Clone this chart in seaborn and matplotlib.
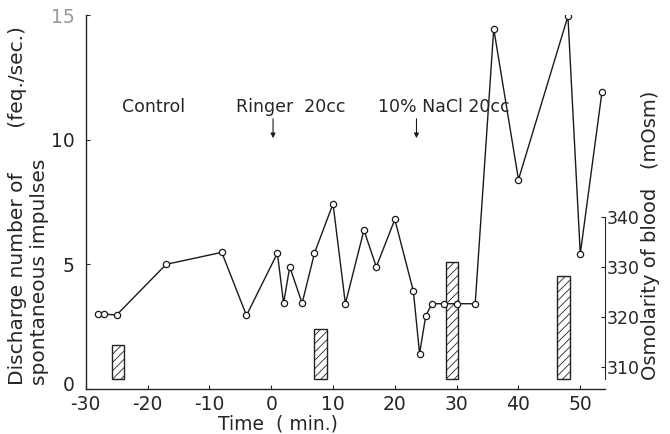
import matplotlib
matplotlib.use("Agg")
import matplotlib.pyplot as plt
import matplotlib.transforms as mtransforms
import seaborn as sns

# discharge rate (feq./sec.) over time (min.)
time_min = [-28, -27, -25, -17, -8, -4, 1, 2, 3, 5, 7, 10, 12, 15, 17, 20, 23, 24,
            25, 26, 28, 30, 33, 36, 40, 48, 50, 53.5]
discharge = [3.0, 3.0, 2.97, 5.0, 5.48, 2.95, 5.45, 3.44, 4.9, 3.44, 5.45, 7.43, 3.42,
             6.37, 4.9, 6.8, 3.92, 1.42, 2.93, 3.42, 3.42, 3.42, 3.42, 14.45, 8.4,
             14.95, 5.42, 11.9]

# blood osmolarity samples (mOsm)
osm_time = [-24.8, 8.0, 29.2, 47.3]
osm_value = [314.4, 317.6, 331.0, 328.2]

sns.set_style("ticks")
plt.rcParams['font.family'] = ['DejaVu Sans']
plt.rcParams['hatch.linewidth'] = 0.6
plt.rcParams['axes.unicode_minus'] = False

fig = plt.figure(figsize=(6.7, 4.34), dpi=100)
ax = fig.add_axes([0.128, 0.1037, 0.775, 0.8617])
ax2 = ax.twinx()

# osmolarity bars (right axis)
osm_base = 307.6
ax2.bar(osm_time, [v - osm_base for v in osm_value], bottom=osm_base, width=2.0,
        color='white', edgecolor='#222222', linewidth=1.0, hatch='////')
ax2.set_ylim(305.6, 380.6)
ax2.set_yticks([310, 320, 330, 340])
ax2.spines['right'].set_bounds(307.6, 340)
ax2.spines['top'].set_visible(False)
ax2.spines['left'].set_visible(False)
ax2.spines['bottom'].set_visible(False)
ax2.tick_params(axis='y', direction='in', length=3, labelsize=12.5, pad=1)

# discharge line (left axis)
ax.set_zorder(ax2.get_zorder() + 1)
ax.patch.set_visible(False)
sns.lineplot(x=time_min, y=discharge, ax=ax, sort=False, color='#1a1a1a', linewidth=1.0,
             marker='o', markersize=4.5, markerfacecolor='white', markeredgecolor='#1a1a1a',
             markeredgewidth=0.9)

ax.set_xlim(-30, 54)
ax.set_ylim(0, 15)
ax.set_xticks([-30, -20, -10, 0, 10, 20, 30, 40, 50])
ax.set_yticks([0, 5, 10, 15])
ax.tick_params(direction='in', length=3, labelsize=13.5)
ax.tick_params(axis='x', pad=4)
ax.tick_params(axis='y', pad=8)
for sp in ['top', 'right']:
    ax.spines[sp].set_visible(False)
for sp in ['left', 'bottom']:
    ax.spines[sp].set_linewidth(1.0)
ylabels = ax.get_yticklabels()
ylabels[-1].set_color('#999999')
# nudge the "0" up a little so it clears "-30"
ylabels[0].set_transform(ylabels[0].get_transform() +
                         mtransforms.ScaledTranslation(0, 4 / 72, fig.dpi_scale_trans))

ax.set_xlabel('Time  ( min.)', fontsize=13.5, labelpad=0)
ax.xaxis.set_label_coords(0.37, -0.068)

# annotations
ax.text(-24.1, 11.3, 'Control', fontsize=12.5, ha='left', va='center')
ax.text(-5.7, 11.3, 'Ringer  20cc', fontsize=12.5, ha='left', va='center')
ax.text(17.3, 11.3, '10% NaCl 20cc', fontsize=12.5, ha='left', va='center')
for xa in [0.3, 23.5]:
    ax.annotate('', xy=(xa, 9.95), xytext=(xa, 10.95),
                arrowprops=dict(arrowstyle='-|>', color='#1a1a1a', lw=0.8,
                                mutation_scale=7))

# axis titles
fig.text(18 / 670, 1 - 385 / 434, 'Discharge number of       (feq./sec.)', rotation=90,
         ha='center', va='bottom', fontsize=14.5)
fig.text(40 / 670, 1 - 385 / 434, 'spontaneous impulses', rotation=90,
         ha='center', va='bottom', fontsize=14.5)
fig.text(650 / 670, 1 - 380 / 434, 'Osmolarity of blood   (mOsm)', rotation=90,
         ha='center', va='bottom', fontsize=14)

fig.savefig('out.png', dpi=100)
